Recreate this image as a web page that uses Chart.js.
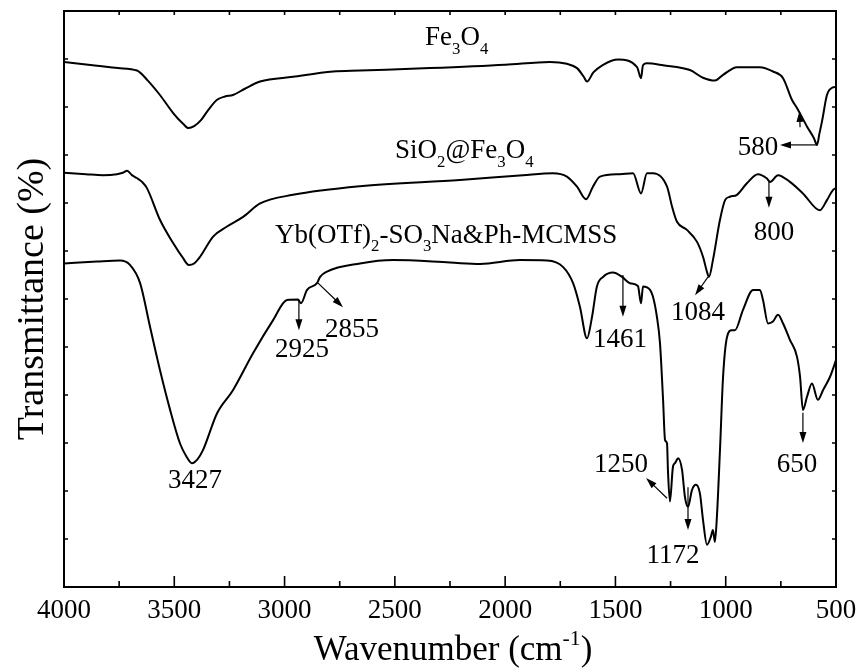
<!DOCTYPE html>
<html>
<head>
<meta charset="utf-8">
<script src="https://cdn.jsdelivr.net/npm/chart.js@4.4.1/dist/chart.umd.min.js"></script>
<style>
  html, body { margin: 0; padding: 0; background: #fff; }
  #wrap { width: 863px; height: 672px; }
</style>
</head>
<body>
<div id="wrap"><canvas id="ftir" width="863" height="672"></canvas></div>
<script>
// FTIR spectra (stacked, arbitrary transmittance units)
const fe3o4Wn = [4000, 3850, 3755, 3669, 3620, 3565, 3506, 3460, 3435, 3410, 3380, 3352, 3306, 3270, 3234, 3180, 3111, 2962, 2780, 2658, 2341, 2000, 1797, 1720, 1674, 1645, 1629, 1600, 1556, 1488, 1402, 1384, 1375, 1357, 1284, 1162, 1103, 1049, 1012, 949, 845, 786, 740, 700, 677, 631, 600, 586, 575, 563, 541, 514, 500];
const fe3o4T = [10.94, 10.86, 10.81, 10.76, 10.55, 10.25, 9.88, 9.65, 9.56, 9.60, 9.72, 9.90, 10.15, 10.22, 10.25, 10.38, 10.53, 10.63, 10.74, 10.76, 10.81, 10.88, 10.94, 10.90, 10.81, 10.64, 10.53, 10.72, 10.88, 10.99, 10.83, 10.60, 10.87, 10.91, 10.87, 10.77, 10.61, 10.55, 10.67, 10.83, 10.83, 10.74, 10.60, 10.15, 9.98, 9.59, 9.35, 9.21, 9.45, 9.71, 10.25, 10.41, 10.42];

const sio2Wn = [4000, 3900, 3823, 3760, 3733, 3714, 3692, 3670, 3646, 3624, 3565, 3506, 3460, 3435, 3410, 3383, 3324, 3261, 3188, 3111, 2962, 2658, 2205, 1919, 1783, 1720, 1674, 1633, 1602, 1570, 1480, 1420, 1384, 1357, 1330, 1266, 1243, 1221, 1176, 1130, 1103, 1084, 1076, 1058, 1026, 1003, 981, 949, 904, 854, 813, 799, 763, 709, 650, 573, 541, 514, 500];
const sio2T = [8.63, 8.60, 8.58, 8.60, 8.63, 8.67, 8.58, 8.52, 8.44, 8.31, 7.65, 7.17, 6.85, 6.71, 6.74, 6.88, 7.30, 7.51, 7.71, 7.99, 8.17, 8.35, 8.48, 8.58, 8.62, 8.55, 8.34, 8.08, 8.34, 8.55, 8.60, 8.62, 8.20, 8.62, 8.62, 8.34, 7.92, 7.61, 7.44, 7.19, 6.88, 6.55, 6.46, 6.81, 7.65, 8.06, 8.13, 8.17, 8.41, 8.60, 8.51, 8.44, 8.58, 8.44, 8.20, 7.85, 8.06, 8.27, 8.31];

const ybWn = [4000, 3850, 3746, 3701, 3655, 3610, 3565, 3519, 3474, 3445, 3420, 3395, 3370, 3306, 3234, 3143, 3052, 2989, 2939, 2926, 2898, 2853, 2839, 2808, 2658, 2508, 2250, 2114, 1933, 1810, 1738, 1692, 1661, 1629, 1606, 1584, 1556, 1511, 1470, 1434, 1398, 1384, 1375, 1343, 1330, 1312, 1298, 1284, 1275, 1266, 1262, 1253, 1239, 1230, 1216, 1198, 1185, 1171, 1153, 1135, 1117, 1103, 1085, 1067, 1058, 1049, 1040, 1026, 1012, 994, 972, 958, 922, 876, 845, 831, 808, 786, 763, 740, 709, 677, 663, 650, 631, 609, 582, 559, 527, 505, 500];
const ybT = [6.74, 6.78, 6.80, 6.71, 6.33, 5.42, 4.52, 3.69, 2.99, 2.72, 2.58, 2.66, 2.85, 3.62, 4.10, 4.87, 5.56, 5.98, 5.99, 5.91, 6.19, 6.33, 6.46, 6.57, 6.74, 6.81, 6.76, 6.73, 6.81, 6.80, 6.67, 6.33, 5.84, 5.18, 5.63, 6.26, 6.46, 6.55, 6.46, 6.33, 6.27, 5.91, 6.26, 6.19, 6.05, 5.63, 5.08, 3.90, 3.06, 2.99, 2.44, 1.78, 2.51, 2.58, 2.68, 2.44, 1.88, 1.67, 2.02, 2.13, 1.95, 1.40, 0.88, 1.05, 1.19, 0.94, 1.46, 2.85, 4.38, 5.21, 5.35, 5.35, 5.77, 6.19, 6.19, 5.98, 5.49, 5.53, 5.67, 5.49, 5.15, 4.80, 4.38, 3.69, 3.97, 4.24, 3.90, 4.10, 4.38, 4.66, 4.73];

const xMajorTicks = [4000, 3500, 3000, 2500, 2000, 1500, 1000, 500];
const xMinorTicks = [3750, 3250, 2750, 2250, 1750, 1250, 750];
const yTicks = [0, 1, 2, 3, 4, 5, 6, 7, 8, 9, 10, 11, 12];

// curve names: [text, 'sub' | ''] pieces, anchored at left / baseline
const curveNames = [
  { wn: 2363, t: 11.29, parts: [['Fe', ''], ['3', 'sub'], ['O', ''], ['4', 'sub']] },
  { wn: 2499, t: 8.94, parts: [['SiO', ''], ['2', 'sub'], ['@Fe', ''], ['3', 'sub'], ['O', ''], ['4', 'sub']] },
  { wn: 3043, t: 7.17, parts: [['Yb(OTf)', ''], ['2', 'sub'], ['-SO', ''], ['3', 'sub'], ['Na&Ph-MCMSS', '']] }
];

// peak labels, centred at wn, baseline at t
const peakLabels = [
  { text: '580', wn: 854, t: 9.0 },
  { text: '800', wn: 781, t: 7.23 },
  { text: '1084', wn: 1126, t: 5.56 },
  { text: '1461', wn: 1479, t: 5.0 },
  { text: '2925', wn: 2921, t: 4.79 },
  { text: '2855', wn: 2694, t: 5.21 },
  { text: '3427', wn: 3406, t: 2.06 },
  { text: '1250', wn: 1475, t: 2.40 },
  { text: '1172', wn: 1239, t: 0.5 },
  { text: '650', wn: 677, t: 2.40 }
];

// arrows: from -> to (head at "to")
const peakArrows = [
  { from: [586, 9.21], to: [754, 9.21] },
  { from: [663, 9.58], to: [665, 9.92] },
  { from: [804, 8.44], to: [804, 7.90] },
  { from: [1080, 6.46], to: [1139, 6.08] },
  { from: [1466, 6.5], to: [1466, 5.63] },
  { from: [2935, 5.98], to: [2935, 5.35] },
  { from: [2848, 6.33], to: [2735, 5.83] },
  { from: [1266, 1.85], to: [1361, 2.27] },
  { from: [1171, 2.08], to: [1171, 1.19] },
  { from: [650, 3.63], to: [650, 3.0] }
];

const SERIF = "'Liberation Serif', 'Times New Roman', serif";

function toPoints(wn, t) {
  return wn.map((w, i) => ({ x: w, y: t[i] }));
}

function drawParts(ctx, parts, x, y, size) {
  let cx = x;
  parts.forEach(([txt, kind]) => {
    let fs = size, dy = 0;
    if (kind === 'sub') { fs = size * 0.62; dy = size * 0.32; }
    if (kind === 'sup') { fs = size * 0.62; dy = -size * 0.42; }
    ctx.font = fs + 'px ' + SERIF;
    ctx.fillText(txt, cx, y + dy);
    cx += ctx.measureText(txt).width;
  });
  return cx - x;
}

function partsWidth(ctx, parts, size) {
  let w = 0;
  parts.forEach(([txt, kind]) => {
    const fs = kind ? size * 0.62 : size;
    ctx.font = fs + 'px ' + SERIF;
    w += ctx.measureText(txt).width;
  });
  return w;
}

function arrow(ctx, x1, y1, x2, y2) {
  const ang = Math.atan2(y2 - y1, x2 - x1);
  const len = 11, half = 3.5;
  ctx.beginPath();
  ctx.moveTo(x1, y1);
  ctx.lineTo(x2 - Math.cos(ang) * len * 0.8, y2 - Math.sin(ang) * len * 0.8);
  ctx.stroke();
  ctx.beginPath();
  ctx.moveTo(x2, y2);
  ctx.lineTo(x2 - Math.cos(ang) * len - Math.sin(ang) * half, y2 - Math.sin(ang) * len + Math.cos(ang) * half);
  ctx.lineTo(x2 - Math.cos(ang) * len + Math.sin(ang) * half, y2 - Math.sin(ang) * len - Math.cos(ang) * half);
  ctx.closePath();
  ctx.fill();
}

const frameAndLabels = {
  id: 'frameAndLabels',
  afterDatasetsDraw(chart) {
    const ctx = chart.ctx;
    const { left, right, top, bottom } = chart.chartArea;
    const xs = chart.scales.x, ys = chart.scales.y;
    ctx.save();
    ctx.strokeStyle = '#000';
    ctx.fillStyle = '#000';

    // frame
    ctx.lineWidth = 2;
    ctx.strokeRect(left, top, right - left, bottom - top);

    // inward ticks
    ctx.lineWidth = 1.6;
    ctx.beginPath();
    xMajorTicks.forEach(v => {
      const px = xs.getPixelForValue(v);
      ctx.moveTo(px, bottom); ctx.lineTo(px, bottom - 11);
      ctx.moveTo(px, top); ctx.lineTo(px, top + 4);
    });
    xMinorTicks.forEach(v => {
      const px = xs.getPixelForValue(v);
      ctx.moveTo(px, bottom); ctx.lineTo(px, bottom - 6);
      ctx.moveTo(px, top); ctx.lineTo(px, top + 4);
    });
    yTicks.forEach(v => {
      const py = ys.getPixelForValue(v);
      ctx.moveTo(left, py); ctx.lineTo(left + 4, py);
      ctx.moveTo(right, py); ctx.lineTo(right - 4, py);
    });
    ctx.stroke();

    // tick labels
    ctx.font = '27px ' + SERIF;
    ctx.textAlign = 'center';
    ctx.textBaseline = 'alphabetic';
    xMajorTicks.forEach(v => {
      ctx.fillText(String(v), xs.getPixelForValue(v), bottom + 31);
    });

    // x title with superscript
    const xParts = [['Wavenumber (cm', ''], ['-1', 'sup'], [')', '']];
    ctx.textAlign = 'left';
    const tw = partsWidth(ctx, xParts, 35);
    drawParts(ctx, xParts, (left + right) / 2 - tw / 2 + 3, bottom + 73, 35);

    // y title
    ctx.save();
    ctx.translate(43, (top + bottom) / 2);
    ctx.rotate(-Math.PI / 2);
    ctx.font = '38px ' + SERIF;
    ctx.textAlign = 'center';
    ctx.fillText('Transmittance (%)', 0, 0);
    ctx.restore();

    // curve names
    ctx.textAlign = 'left';
    curveNames.forEach(c => {
      drawParts(ctx, c.parts, xs.getPixelForValue(c.wn), ys.getPixelForValue(c.t), 27);
    });

    // peak labels
    ctx.font = '27px ' + SERIF;
    ctx.textAlign = 'center';
    peakLabels.forEach(p => {
      ctx.fillText(p.text, xs.getPixelForValue(p.wn), ys.getPixelForValue(p.t));
    });

    // arrows
    ctx.lineWidth = 1.2;
    peakArrows.forEach(a => {
      arrow(ctx,
        xs.getPixelForValue(a.from[0]), ys.getPixelForValue(a.from[1]),
        xs.getPixelForValue(a.to[0]), ys.getPixelForValue(a.to[1]));
    });
    ctx.restore();
  }
};

const lineStyle = {
  borderColor: '#000',
  borderWidth: 2,
  pointRadius: 0,
  fill: false,
  cubicInterpolationMode: 'monotone'
};

new Chart(document.getElementById('ftir'), {
  type: 'line',
  data: {
    datasets: [
      Object.assign({ label: 'Fe3O4', data: toPoints(fe3o4Wn, fe3o4T) }, lineStyle),
      Object.assign({ label: 'SiO2@Fe3O4', data: toPoints(sio2Wn, sio2T) }, lineStyle),
      Object.assign({ label: 'Yb(OTf)2-SO3Na&Ph-MCMSS', data: toPoints(ybWn, ybT) }, lineStyle)
    ]
  },
  options: {
    responsive: false,
    animation: false,
    layout: { padding: { left: 64, top: 11, right: 27, bottom: 85 } },
    plugins: { legend: { display: false }, tooltip: { enabled: false } },
    scales: {
      x: { type: 'linear', display: false, min: 500, max: 4000, reverse: true },
      y: { type: 'linear', display: false, min: 0, max: 12 }
    }
  },
  plugins: [frameAndLabels]
});
</script>
</body>
</html>
